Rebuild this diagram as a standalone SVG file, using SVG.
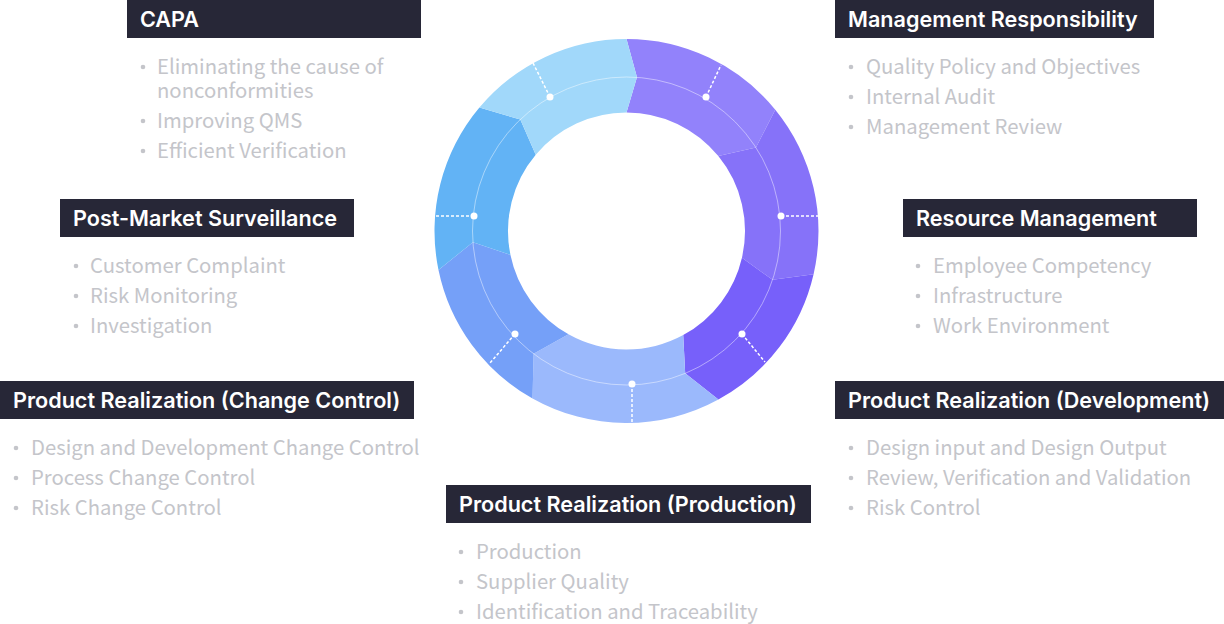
<svg xmlns="http://www.w3.org/2000/svg" width="1224" height="624" viewBox="0 0 1224 624">
<style>
.hdr{fill:#272737}
.ht{font-family:Inter,"Noto Sans","Liberation Sans",sans-serif;font-weight:600;font-size:21.6px;fill:#ffffff}
.bt{font-family:"Noto Sans CJK KR","Noto Sans",sans-serif;font-size:20.3px;fill:#c4c5ca}
.bd{fill:#c4c5ca}
.dash{stroke:#ffffff;stroke-width:1.5;stroke-dasharray:3 2;fill:none}
.dot{fill:#ffffff}
</style>
<rect width="1224" height="624" fill="#ffffff"/>
<g id="ring">
<path d="M626.5,39 A192,192 0 0 1 775.28,109.66 L755.95,147.58 L718.33,156.11 A118.5,118.5 0 0 0 626.5,112.5 L636.97,77.35 Z" fill="#9282fb"/>
<path d="M775.28,109.66 A192,192 0 0 1 813.58,274.2 L772.54,279.86 L741.96,257.66 A118.5,118.5 0 0 0 718.33,156.11 L755.95,147.58 Z" fill="#8672f9"/>
<path d="M813.58,274.2 A192,192 0 0 1 718.41,399.58 L685.19,373.37 L683.23,335.04 A118.5,118.5 0 0 0 741.96,257.66 L772.54,279.86 Z" fill="#7760fa"/>
<path d="M718.41,399.58 A192,192 0 0 1 532.54,398.44 L533.61,353.83 L568.51,334.34 A118.5,118.5 0 0 0 683.23,335.04 L685.19,373.37 Z" fill="#9bb9fc"/>
<path d="M532.54,398.44 A192,192 0 0 1 438.49,269.94 L472.91,242.28 L510.46,255.03 A118.5,118.5 0 0 0 568.51,334.34 L533.61,353.83 Z" fill="#75a0f8"/>
<path d="M438.49,269.94 A192,192 0 0 1 479.42,107.58 L520.3,119.47 L535.73,154.83 A118.5,118.5 0 0 0 510.46,255.03 L472.91,242.28 Z" fill="#62b3f5"/>
<path d="M479.42,107.58 A192,192 0 0 1 626.5,39 L636.97,77.35 L626.5,112.5 A118.5,118.5 0 0 0 535.73,154.83 L520.3,119.47 Z" fill="#a1d8fa"/>
<circle cx="626.5" cy="231" r="154" fill="none" stroke="#ffffff" stroke-opacity="0.45" stroke-width="1"/>
</g>
<g id="connectors">
<line class="dash" x1="706" y1="97" x2="721" y2="65"/>
<line class="dash" x1="781" y1="216" x2="819" y2="216"/>
<line class="dash" x1="742" y1="334" x2="765" y2="362"/>
<line class="dash" x1="632" y1="384" x2="632" y2="423"/>
<line class="dash" x1="515" y1="334" x2="490" y2="363"/>
<line class="dash" x1="474" y1="216" x2="435" y2="216"/>
<line class="dash" x1="550" y1="97" x2="533" y2="63"/>
<circle class="dot" cx="706" cy="97" r="3.5"/>
<circle class="dot" cx="781" cy="216" r="3.5"/>
<circle class="dot" cx="742" cy="334" r="3.5"/>
<circle class="dot" cx="632" cy="384" r="3.5"/>
<circle class="dot" cx="515" cy="334" r="3.5"/>
<circle class="dot" cx="474" cy="216" r="3.5"/>
<circle class="dot" cx="550" cy="97" r="3.5"/>
</g>
<g id="capa">
<rect class="hdr" x="127" y="0" width="294" height="38"/>
<text class="ht" x="140" y="27">CAPA</text>
<circle class="bd" cx="143" cy="67" r="2.3"/>
<text class="bt" x="157" y="74">Eliminating the cause of</text>
<text class="bt" x="157" y="98">nonconformities</text>
<circle class="bd" cx="143" cy="121" r="2.3"/>
<text class="bt" x="157" y="128">Improving QMS</text>
<circle class="bd" cx="143" cy="151" r="2.3"/>
<text class="bt" x="157" y="158">Efficient Verification</text>
</g>
<g id="management-responsibility">
<rect class="hdr" x="835" y="0" width="319" height="38"/>
<text class="ht" x="848" y="27">Management Responsibility</text>
<circle class="bd" cx="851" cy="67" r="2.3"/>
<text class="bt" x="866" y="74">Quality Policy and Objectives</text>
<circle class="bd" cx="851" cy="97" r="2.3"/>
<text class="bt" x="866" y="104">Internal Audit</text>
<circle class="bd" cx="851" cy="127" r="2.3"/>
<text class="bt" x="866" y="134">Management Review</text>
</g>
<g id="post-market-surveillance">
<rect class="hdr" x="60" y="199" width="294" height="38"/>
<text class="ht" x="73" y="226">Post-Market Surveillance</text>
<circle class="bd" cx="76" cy="266" r="2.3"/>
<text class="bt" x="90" y="273">Customer Complaint</text>
<circle class="bd" cx="76" cy="296" r="2.3"/>
<text class="bt" x="90" y="303">Risk Monitoring</text>
<circle class="bd" cx="76" cy="326" r="2.3"/>
<text class="bt" x="90" y="333">Investigation</text>
</g>
<g id="resource-management">
<rect class="hdr" x="903" y="199" width="294" height="38"/>
<text class="ht" x="916" y="226">Resource Management</text>
<circle class="bd" cx="918" cy="266" r="2.3"/>
<text class="bt" x="933" y="273">Employee Competency</text>
<circle class="bd" cx="918" cy="296" r="2.3"/>
<text class="bt" x="933" y="303">Infrastructure</text>
<circle class="bd" cx="918" cy="326" r="2.3"/>
<text class="bt" x="933" y="333">Work Environment</text>
</g>
<g id="change-control">
<rect class="hdr" x="0" y="381" width="414" height="38"/>
<text class="ht" x="13" y="408">Product Realization (Change Control)</text>
<circle class="bd" cx="16" cy="448" r="2.3"/>
<text class="bt" x="31" y="455">Design and Development Change Control</text>
<circle class="bd" cx="16" cy="478" r="2.3"/>
<text class="bt" x="31" y="485">Process Change Control</text>
<circle class="bd" cx="16" cy="508" r="2.3"/>
<text class="bt" x="31" y="515">Risk Change Control</text>
</g>
<g id="development">
<rect class="hdr" x="835" y="381" width="389" height="38"/>
<text class="ht" x="848" y="408">Product Realization (Development)</text>
<circle class="bd" cx="851" cy="448" r="2.3"/>
<text class="bt" x="866" y="455">Design input and Design Output</text>
<circle class="bd" cx="851" cy="478" r="2.3"/>
<text class="bt" x="866" y="485">Review, Verification and Validation</text>
<circle class="bd" cx="851" cy="508" r="2.3"/>
<text class="bt" x="866" y="515">Risk Control</text>
</g>
<g id="production">
<rect class="hdr" x="446" y="485" width="365" height="38"/>
<text class="ht" x="459" y="512">Product Realization (Production)</text>
<circle class="bd" cx="461" cy="552" r="2.3"/>
<text class="bt" x="476" y="559">Production</text>
<circle class="bd" cx="461" cy="582" r="2.3"/>
<text class="bt" x="476" y="589">Supplier Quality</text>
<circle class="bd" cx="461" cy="612" r="2.3"/>
<text class="bt" x="476" y="619">Identification and Traceability</text>
</g>
</svg>
